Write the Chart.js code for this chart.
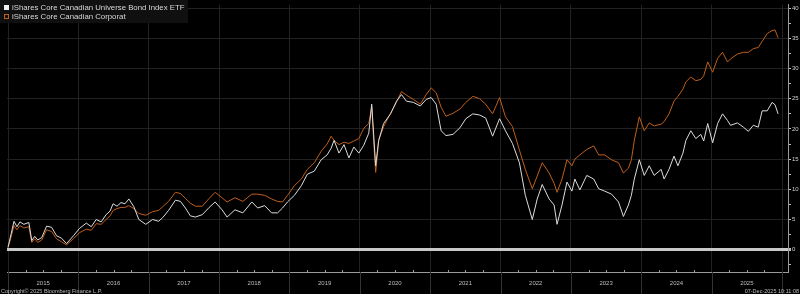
<!DOCTYPE html>
<html>
<head>
<meta charset="utf-8">
<script src="https://cdn.jsdelivr.net/npm/chart.js@4"></script>
<style>
  html, body { margin: 0; padding: 0; background: #000; }
  #chart { display: block; }
</style>
</head>
<body>
<canvas id="chart" width="800" height="294"></canvas>
<script>
// decimal years (2015.0 = start of 2015)
const dates = [
  2015.000, 2015.042, 2015.085, 2015.127, 2015.169, 2015.225, 2015.296, 2015.338, 2015.380, 2015.423,
  2015.479, 2015.549, 2015.620, 2015.690, 2015.761, 2015.831, 2015.930, 2016.014, 2016.113, 2016.183,
  2016.254, 2016.324, 2016.394, 2016.451, 2016.493, 2016.549, 2016.606, 2016.662, 2016.718, 2016.789,
  2016.859, 2016.958, 2017.056, 2017.141, 2017.197, 2017.282, 2017.380, 2017.451, 2017.521, 2017.592,
  2017.662, 2017.761, 2017.859, 2017.944, 2018.042, 2018.113, 2018.225, 2018.338, 2018.465, 2018.549,
  2018.648, 2018.746, 2018.831, 2018.901, 2018.972, 2019.070, 2019.169, 2019.254, 2019.352, 2019.451,
  2019.535, 2019.592, 2019.634, 2019.704, 2019.775, 2019.845, 2019.915, 2019.986, 2020.056, 2020.127,
  2020.169, 2020.197, 2020.225, 2020.268, 2020.338, 2020.437, 2020.521, 2020.592, 2020.662, 2020.761,
  2020.859, 2020.944, 2021.014, 2021.085, 2021.155, 2021.225, 2021.324, 2021.423, 2021.507, 2021.606,
  2021.704, 2021.789, 2021.887, 2021.986, 2022.070, 2022.169, 2022.268, 2022.352, 2022.451, 2022.521,
  2022.592, 2022.690, 2022.761, 2022.803, 2022.873, 2022.944, 2023.014, 2023.056, 2023.127, 2023.225,
  2023.324, 2023.394, 2023.479, 2023.577, 2023.676, 2023.746, 2023.817, 2023.859, 2023.901, 2023.972,
  2024.042, 2024.113, 2024.183, 2024.282, 2024.324, 2024.394, 2024.465, 2024.521, 2024.592, 2024.634,
  2024.704, 2024.775, 2024.845, 2024.887, 2024.944, 2025.014, 2025.085, 2025.155, 2025.225, 2025.268,
  2025.366, 2025.451, 2025.521, 2025.592, 2025.662, 2025.718, 2025.789, 2025.859, 2025.901, 2025.944,
];

// total return, % (iShares Core Canadian Universe Bond Index ETF)
const universe = [
  0.4, 2.5, 4.7, 3.8, 4.6, 4.2, 4.5, 1.5, 2.2, 1.6,
  2.0, 3.9, 3.7, 2.3, 1.9, 1.0, 2.3, 3.5, 4.4, 3.8,
  5.0, 4.6, 5.8, 6.4, 7.6, 7.2, 7.8, 7.6, 8.4, 7.1,
  5.0, 4.2, 5.0, 4.7, 5.3, 6.5, 8.2, 8.0, 6.9, 5.6,
  5.4, 5.8, 7.0, 7.9, 6.6, 5.4, 6.6, 6.1, 7.9, 6.9,
  7.3, 6.1, 6.1, 6.9, 7.9, 9.0, 10.6, 12.5, 13.0, 14.9,
  15.7, 16.8, 18.1, 16.0, 17.4, 15.2, 17.0, 16.0, 17.3, 19.3,
  24.1, 19.0, 13.9, 18.1, 20.9, 22.5, 24.6, 25.7, 24.6, 24.4,
  23.8, 24.9, 25.2, 24.1, 19.7, 18.9, 19.1, 20.2, 21.7, 22.5,
  22.3, 21.8, 18.8, 21.7, 19.7, 17.6, 14.4, 9.0, 5.0, 8.4,
  10.8, 8.4, 7.4, 4.2, 7.4, 11.2, 9.7, 11.7, 9.9, 12.3,
  11.7, 10.1, 9.7, 9.2, 7.9, 5.5, 7.4, 9.0, 11.7, 14.9,
  12.3, 13.9, 12.3, 13.3, 11.7, 13.3, 15.5, 13.9, 16.0, 18.1,
  19.7, 18.4, 19.1, 18.0, 20.9, 17.7, 20.9, 22.5, 21.4, 20.6,
  21.0, 20.3, 19.6, 20.6, 20.3, 23.0, 23.0, 24.4, 24.0, 22.5,
];

// total return, % (iShares Core Canadian Corporate Bond Index ETF)
const corporate = [
  0.3, 2.0, 4.0, 3.3, 4.0, 3.6, 3.8, 1.2, 1.8, 1.2,
  1.6, 3.3, 3.0, 1.8, 1.3, 0.8, 1.8, 2.8, 3.4, 3.2,
  4.3, 4.2, 5.0, 5.6, 6.5, 6.8, 7.0, 7.0, 7.3, 6.8,
  6.0, 5.7, 6.3, 6.5, 7.1, 8.0, 9.5, 9.3, 8.5, 7.7,
  7.2, 7.2, 8.5, 9.5, 8.6, 7.9, 8.6, 8.0, 9.2, 9.2,
  9.0, 8.4, 8.0, 7.9, 9.0, 10.6, 11.7, 13.3, 14.4, 16.3,
  17.5, 18.8, 18.1, 17.4, 17.8, 17.6, 18.0, 18.4, 20.1, 20.9,
  23.6, 18.0, 12.8, 18.1, 20.4, 22.6, 24.4, 26.2, 25.6, 24.9,
  24.1, 25.7, 26.8, 26.0, 23.6, 22.1, 22.6, 23.3, 24.4, 25.4,
  25.0, 24.1, 22.5, 25.2, 22.0, 20.4, 16.5, 13.3, 10.1, 12.2,
  14.4, 12.7, 11.0, 9.5, 11.7, 14.9, 13.9, 15.0, 15.7, 16.6,
  17.2, 15.7, 15.7, 14.9, 14.4, 12.7, 13.5, 14.9, 18.1, 22.0,
  19.7, 21.0, 20.5, 20.8, 21.2, 22.5, 24.6, 25.4, 26.6, 27.8,
  28.6, 28.0, 28.2, 28.8, 31.1, 29.4, 31.7, 32.7, 31.1, 31.6,
  32.4, 32.7, 32.7, 33.3, 33.5, 34.5, 35.8, 36.3, 36.4, 35.1,
];

const seriesNames = ['iShares Core Canadian Universe Bond Index ETF', 'iShares Core Canadian Corporat'];
const seriesColors = ['#dcdcdc', '#bf5f1a'];
const years = [2015, 2016, 2017, 2018, 2019, 2020, 2021, 2022, 2023, 2024, 2025, 2026];
const yTicks = [-2.5, 0, 2.5, 5, 7.5, 10, 12.5, 15, 17.5, 20, 22.5, 25, 27.5, 30, 32.5, 35, 37.5, 40];
const copyright = 'Copyright\u00A9 2025 Bloomberg Finance L.P.';
const stamp = '07-Dec-2025 10:11:08';

const FONT = '"Liberation Sans", Arial, sans-serif';
const gridDim = '#222222';

// quarter ticks for the x axis
const quarterTicks = [];
years.forEach((y) => {
  [0, 0.25, 0.5, 0.75].forEach((q) => {
    if (y + q <= 2026) quarterTicks.push({ value: y + q });
  });
});

// legend, footer texts, year separators below the axis
const decor = {
  id: 'decor',
  afterDraw(chart) {
    const { ctx, chartArea, scales } = chart;
    const x = scales.x;
    ctx.save();

    // year separators running down through the label row
    ctx.strokeStyle = '#333333';
    ctx.lineWidth = 1;
    years.forEach((y) => {
      const px = Math.round(x.getPixelForValue(y)) + 0.5;
      ctx.beginPath();
      ctx.moveTo(px, chartArea.bottom);
      ctx.lineTo(px, chart.height);
      ctx.stroke();
    });

    // minor quarter marks on the axis line
    ctx.strokeStyle = '#9a9a9a';
    quarterTicks.forEach((t) => {
      if (Number.isInteger(t.value)) return;
      const px = Math.round(x.getPixelForValue(t.value)) + 0.5;
      ctx.beginPath();
      ctx.moveTo(px, chartArea.bottom - 2);
      ctx.lineTo(px, chartArea.bottom);
      ctx.stroke();
    });

    // legend
    ctx.fillStyle = '#101010';
    ctx.fillRect(0, 0, 188, 23);
    ctx.fillStyle = '#f0f0f0';
    ctx.fillRect(4, 5, 5, 5);
    ctx.strokeStyle = seriesColors[1];
    ctx.strokeRect(4.5, 14.5, 4, 4);
    ctx.font = '7.8px ' + FONT;
    ctx.fillStyle = '#d8d8d8';
    ctx.textBaseline = 'middle';
    ctx.textAlign = 'left';
    ctx.fillText(seriesNames[0], 12, 8);
    ctx.fillText(seriesNames[1], 12, 17);

    // footer
    ctx.font = '5.5px ' + FONT;
    ctx.fillStyle = '#bdbdbd';
    ctx.textBaseline = 'bottom';
    ctx.fillText(copyright, 1, chart.height);
    ctx.textAlign = 'right';
    ctx.fillText(stamp, chart.width - 1, chart.height);
    ctx.restore();
  },
};

const chart = new Chart(document.getElementById('chart'), {
  type: 'line',
  data: {
    datasets: [
      {
        label: seriesNames[0],
        data: dates.map((d, i) => ({ x: d, y: universe[i] })),
        borderColor: seriesColors[0],
        borderWidth: 1,
        pointRadius: 0,
        order: 1,
      },
      {
        label: seriesNames[1],
        data: dates.map((d, i) => ({ x: d, y: corporate[i] })),
        borderColor: seriesColors[1],
        borderWidth: 1,
        pointRadius: 0,
        order: 2,
      },
    ],
  },
  options: {
    responsive: false,
    animation: false,
    layout: { padding: 0 },
    plugins: {
      legend: { display: false },
      tooltip: { enabled: false },
    },
    scales: {
      x: {
        type: 'linear',
        min: 2014.986,
        max: 2026.085,
        afterBuildTicks: (scale) => {
          scale.ticks = quarterTicks.map((t) => ({ value: t.value }));
        },
        afterFit: (scale) => {
          scale.height = 22;
        },
        border: { display: true, color: '#9a9a9a', width: 1 },
        grid: {
          drawTicks: false,
          color: (c) => (Number.isInteger(c.tick && c.tick.value) ? gridDim : 'transparent'),
        },
        ticks: {
          autoSkip: false,
          maxRotation: 0,
          padding: 8,
          color: '#bdbdbd',
          font: { family: FONT, size: 6 },
          callback: (v) => (v % 1 === 0.5 ? String(Math.floor(v)) : ''),
        },
      },
      y: {
        position: 'right',
        min: -3.7,
        max: 40.6,
        afterBuildTicks: (scale) => {
          scale.ticks = yTicks.map((v) => ({ value: v }));
        },
        afterFit: (scale) => {
          scale.width = 12;
        },
        border: { display: true, color: '#9a9a9a', width: 1 },
        grid: {
          tickLength: 3,
          tickColor: '#bdbdbd',
          color: (c) => {
            const v = c.tick && c.tick.value;
            if (v === 0) return '#c8c8c8';
            return v % 5 === 0 ? gridDim : 'transparent';
          },
          lineWidth: (c) => (c.tick && c.tick.value === 0 ? 3 : 1),
        },
        ticks: {
          padding: 1,
          color: '#cfcfcf',
          font: { family: FONT, size: 6 },
          callback: (v) => (v % 5 === 0 ? String(v) : ''),
        },
      },
    },
  },
  plugins: [decor],
});
</script>
</body>
</html>
